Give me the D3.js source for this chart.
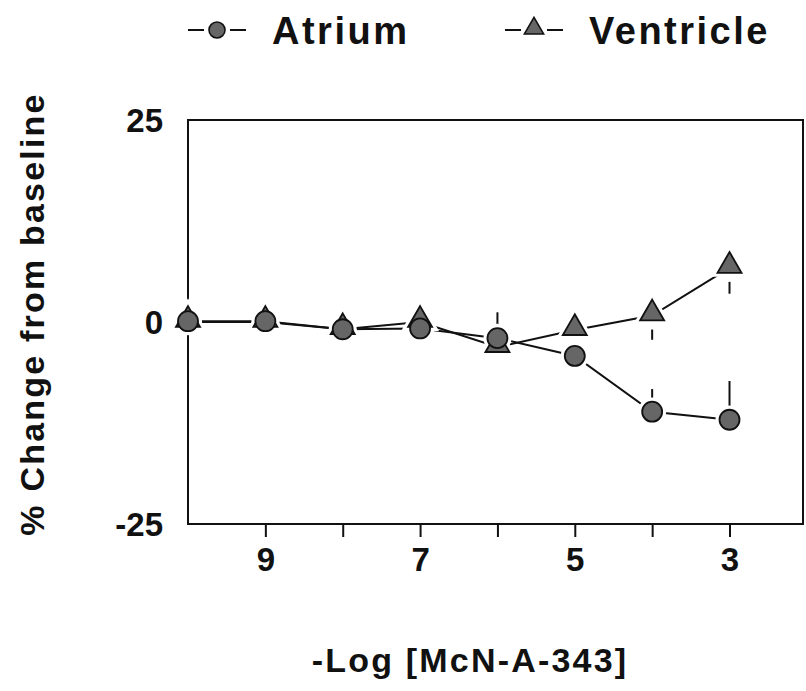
<!DOCTYPE html>
<html>
<head>
<meta charset="utf-8">
<script src="https://cdn.jsdelivr.net/npm/d3@7"></script>
<style>
  body { margin: 0; background: #fff; }
  text { font-family: "Liberation Sans", Arial, sans-serif; font-weight: bold; fill: #111; }
</style>
</head>
<body>
<div id="chart"></div>
<script>
// -log concentration; first point is baseline at the axis
var doses = [10, 9, 8, 7, 6, 5, 4, 3];
var atrium = [0.1, 0.1, -0.9, -0.8, -2, -4.2, -11.1, -12.1];
var atriumErr = [0, 0, 0, 0, 3.2, 0, 2.8, 4.8];      // drawn upward
var ventricle = [0, 0, -0.9, 0, -3.1, -1, 0.8, 6.7];
var ventricleErr = [0, 0, 0, 0, 0, 0, 3, 3.2];      // drawn downward
var xTicks = [9, 8, 7, 6, 5, 4, 3];
var xLabels = [9, 7, 5, 3];
var yTicks = [25, 0, -25];

var W = 806, H = 691;
var pad = {left: 188, right: 3, top: 120, bottom: 167};

var svg = d3.select('#chart').append('svg').attr('width', W).attr('height', H);

var x = d3.scaleLinear().domain([10, 2.05]).range([pad.left, W - pad.right]);
var y = d3.scaleLinear().domain([-25, 25]).range([H - pad.bottom, pad.top]);

//plot box
svg.append('rect').attr('x', pad.left).attr('y', pad.top)
  .attr('width', W - pad.left - pad.right).attr('height', H - pad.top - pad.bottom)
  .attr('fill', 'none').attr('stroke', '#111').attr('stroke-width', 2);

//x axis ticks
var xAxis = d3.axisBottom(x).tickValues(xTicks).tickSize(13).tickPadding(8)
  .tickFormat(function(d){ return xLabels.indexOf(d) >= 0 ? d : ''; });
var gx = svg.append('g').attr('transform', 'translate(0,' + (H - pad.bottom) + ')').call(xAxis);
gx.select('.domain').remove();
gx.selectAll('line').attr('stroke', '#111').attr('stroke-width', 2);
gx.selectAll('text').style('font-size', '33px').attr('dy', '0.8em');

//y axis labels (plain hyphen like the original)
var yAxis = d3.axisLeft(y).tickValues(yTicks).tickSize(0).tickPadding(25)
  .tickFormat(function(d){ return String(d); });
var gy = svg.append('g').attr('transform', 'translate(' + pad.left + ',0)').call(yAxis);
gy.select('.domain').remove();
gy.selectAll('text').style('font-size', '33px').attr('dy', '0.36em');
svg.append('line').attr('x1', x.range()[0] - 6).attr('x2', x.range()[0])
  .attr('y1', y(0)).attr('y2', y(0)).attr('stroke', '#111').attr('stroke-width', 1.5);

//axis titles
svg.append('text').attr('transform', 'translate(44,314) rotate(-90)')
  .attr('text-anchor', 'middle').style('font-size', '34px').style('letter-spacing', '2.2px')
  .text('% Change from baseline');
svg.append('text').attr('x', 470).attr('y', 672).attr('text-anchor', 'middle')
  .style('font-size', '34px').style('letter-spacing', '2.2px').text('-Log [McN-A-343]');

//ventricle first so atrium circles sit on top
var series = [
  {name: 'Ventricle', vals: ventricle, err: ventricleErr, dir: -1, shape: 'triangle'},
  {name: 'Atrium', vals: atrium, err: atriumErr, dir: 1, shape: 'circle'}
];
series.forEach(function(s){
  s.pts = doses.map(function(d, i){ return [d, s.vals[i], s.err[i]]; });
});

var tri = d3.symbol().type(d3.symbolTriangle).size(250);

function marker(g, shape){
  if (shape === 'circle') {
    return g.append('circle').attr('r', 10);
  }
  return g.append('path').attr('d', tri).attr('transform', 'translate(0,-2)');
}

var line = d3.line().x(function(d){ return x(d[0]); }).y(function(d){ return y(d[1]); });
var gLines = svg.append('g'), gHalo = svg.append('g'), gMarks = svg.append('g');

series.forEach(function(s){
  gLines.append('path').datum(s.pts).attr('d', line).attr('fill', 'none')
    .attr('stroke', '#111').attr('stroke-width', 2);
  //one-sided error bars
  gLines.selectAll('.err-' + s.shape).data(s.pts.filter(function(p){ return p[2] > 0; })).enter()
    .append('line')
    .attr('x1', function(p){ return x(p[0]); }).attr('x2', function(p){ return x(p[0]); })
    .attr('y1', function(p){ return y(p[1]) - s.dir * 14; })
    .attr('y2', function(p){ return y(p[1] + s.dir * p[2]); })
    .attr('stroke', '#111').attr('stroke-width', 2);
  //white halos cut the connecting lines short of each marker
  s.pts.forEach(function(p){
    var h = gHalo.append('g').attr('transform', 'translate(' + x(p[0]) + ',' + y(p[1]) + ')');
    marker(h, s.shape).attr('fill', '#fff').attr('stroke', '#fff').attr('stroke-width', 8);
  });
});
series.forEach(function(s){
  s.pts.forEach(function(p){
    var m = gMarks.append('g').attr('transform', 'translate(' + x(p[0]) + ',' + y(p[1]) + ')');
    marker(m, s.shape).attr('fill', '#666').attr('stroke', '#111').attr('stroke-width', 1.8);
  });
});

//legend
var legend = [{name: 'Atrium', shape: 'circle', x: 188}, {name: 'Ventricle', shape: 'triangle', x: 505}];
legend.forEach(function(l){
  var g = svg.append('g').attr('transform', 'translate(' + l.x + ',30)');
  g.append('line').attr('x1', 0).attr('x2', 16).attr('y1', 0).attr('y2', 0).attr('stroke', '#111').attr('stroke-width', 2);
  g.append('line').attr('x1', 42).attr('x2', 58).attr('y1', 0).attr('y2', 0).attr('stroke', '#111').attr('stroke-width', 2);
  var m = g.append('g').attr('transform', 'translate(29,0) scale(0.8)');
  marker(m, l.shape).attr('fill', '#666').attr('stroke', '#111').attr('stroke-width', 2);
  g.append('text').attr('x', 84).attr('y', 14).style('font-size', '38px')
    .style('letter-spacing', '2.5px').text(l.name);
});
</script>
</body>
</html>
